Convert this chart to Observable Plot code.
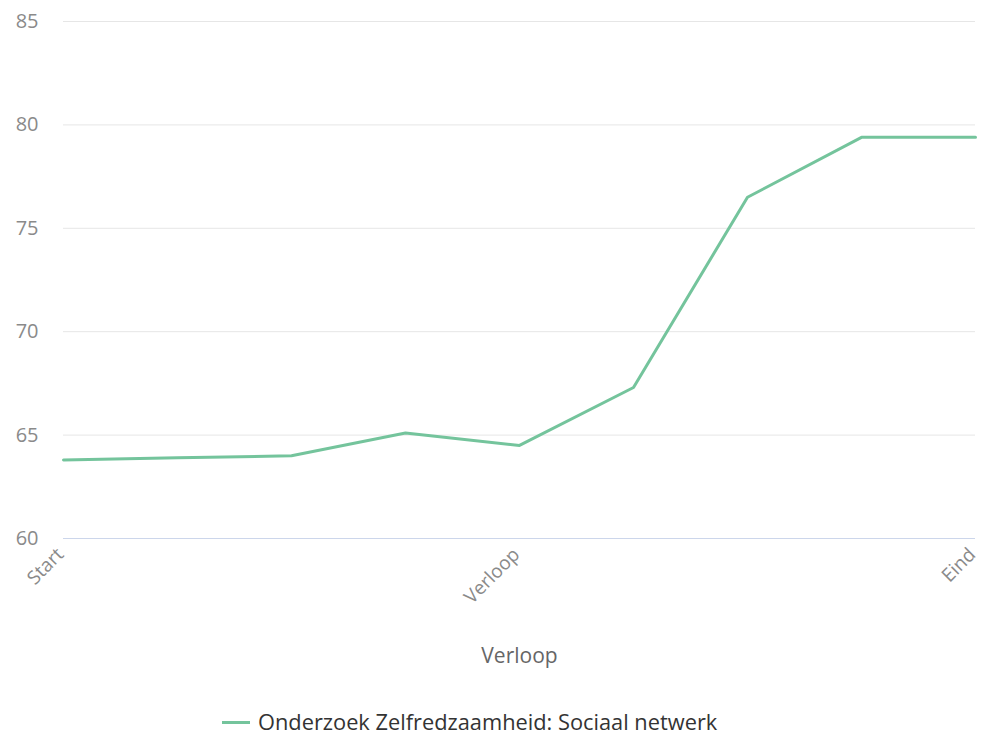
<!DOCTYPE html>
<html>
<head>
<meta charset="utf-8">
<script src="https://cdn.jsdelivr.net/npm/d3@7"></script>
<script src="https://cdn.jsdelivr.net/npm/@observablehq/plot@0.6"></script>
<style>
  html, body { margin: 0; padding: 0; background: #fff; }
  #chart { width: 982px; }
  .legend { position: relative; height: 56px; font-family: "Open Sans", sans-serif; font-size: 21.8px; color: #333; }
  .legend .item { position: absolute; left: 222px; top: 27px; display: flex; align-items: center; line-height: 30px; }
  .legend .swatch { width: 28px; height: 3px; background: #74c49c; margin-right: 8px; }
</style>
</head>
<body>
<div id="chart"></div>
<script>
const steps = [0, 1, 2, 3, 4, 5, 6, 7, 8];
const values = [63.8, 63.9, 64.0, 65.1, 64.5, 67.3, 76.5, 79.4, 79.4];
const tickPositions = [0, 4, 8];
const tickLabels = ["Start", "Verloop", "Eind"];
const yTicks = [60, 65, 70, 75, 80, 85];
const seriesName = "Onderzoek Zelfredzaamheid: Sociaal netwerk";
const xTitle = "Verloop";

const data = steps.map((s, i) => ({step: s, value: values[i]}));
const labelOf = new Map(tickPositions.map((p, i) => [p, tickLabels[i]]));

const chart = Plot.plot({
  width: 982,
  height: 680,
  marginTop: 21,
  marginBottom: 142,
  marginLeft: 63,
  marginRight: 7,
  style: {fontFamily: "Open Sans, sans-serif", background: "#fff"},
  x: {type: "linear", domain: [0, 8]},
  y: {domain: [60, 85]},
  marks: [
    Plot.ruleY(yTicks.filter(d => d !== 60), {stroke: "#e6e6e6", strokeWidth: 1}),
    Plot.ruleY([60], {stroke: "#ccd6eb", strokeWidth: 1}),
    Plot.axisY({ticks: yTicks, tickSize: 0, tickPadding: 25, label: null, fontSize: 20, fill: "#8a8a8a"}),
    Plot.axisX({ticks: tickPositions, tickFormat: d => labelOf.get(d), tickRotate: -45, tickSize: 0, tickPadding: 13, dx: -3, label: null, fontSize: 19, fill: "#8a8a8a"}),
    Plot.text([xTitle], {frameAnchor: "bottom", dy: 124, text: d => d, fontSize: 21, fill: "#666"}),
    Plot.line(data, {x: "step", y: "value", stroke: "#74c49c", strokeWidth: 3, strokeLinejoin: "round", strokeLinecap: "round"})
  ]
});
document.getElementById("chart").appendChild(chart);

const legend = document.createElement("div");
legend.className = "legend";
legend.innerHTML = '<div class="item"><span class="swatch"></span><span class="lbl"></span></div>';
legend.querySelector(".lbl").textContent = seriesName;
document.getElementById("chart").appendChild(legend);
</script>
</body>
</html>
